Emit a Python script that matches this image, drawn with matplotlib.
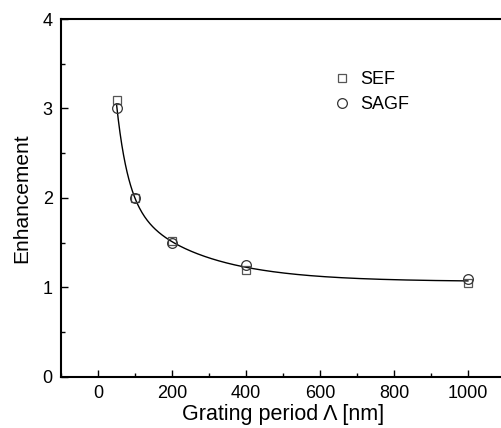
import numpy as np
import matplotlib
matplotlib.use("Agg")
import matplotlib.pyplot as plt
from matplotlib.ticker import MultipleLocator

plt.rcParams['font.family'] = ['Liberation Sans', 'DejaVu Sans']

# Grating period (nm) and measured enhancement factors
period_nm = [50, 100, 200, 400, 1000]
sef = [3.10, 2.00, 1.52, 1.20, 1.05]
sagf = [3.00, 2.00, 1.50, 1.25, 1.10]

x_ticks = [0, 200, 400, 600, 800, 1000]
y_ticks = [0, 1, 2, 3, 4]

# Second-order exponential decay fitted jointly to both series:
# y = y0 + A1*exp(-x/t1) + A2*exp(-x/t2)
xd = np.array(period_nm * 2, dtype=float)
yd = np.array(sef + sagf, dtype=float)
best = None
for t1 in np.logspace(1.0, 2.6, 60):
    for t2 in np.logspace(2.0, 3.6, 60):
        if t2 <= t1:
            continue
        A = np.column_stack([np.ones_like(xd), np.exp(-xd / t1), np.exp(-xd / t2)])
        coef, *_ = np.linalg.lstsq(A, yd, rcond=None)
        res = np.sum((A @ coef - yd) ** 2)
        if best is None or res < best[0]:
            best = (res, t1, t2, coef)
_, t1, t2, coef = best
xf = np.linspace(min(period_nm), max(period_nm), 400)
yf = coef[0] + coef[1] * np.exp(-xf / t1) + coef[2] * np.exp(-xf / t2)

fig = plt.figure(figsize=(5.01, 4.28), dpi=100)
ax = fig.add_axes([0.1218, 0.1192, 0.886, 0.8364])

ax.plot(xf, yf, color='black', lw=1.0, zorder=2)
ax.plot(period_nm, sef, ls='none', marker='s', ms=6.0, mfc='none',
        mec='#555555', mew=0.9, label='SEF', zorder=3)
ax.plot(period_nm, sagf, ls='none', marker='o', ms=7.0, mfc='none',
        mec='#333333', mew=0.9, label='SAGF', zorder=3)

ax.set_xlim(-100, 1100)
ax.set_ylim(0, 4)
ax.set_xticks(x_ticks)
ax.set_yticks(y_ticks)
ax.xaxis.set_minor_locator(MultipleLocator(100))
ax.yaxis.set_minor_locator(MultipleLocator(0.5))
ax.tick_params(which='major', direction='in', length=5, width=1.0,
               labelsize=13, pad=6)
ax.tick_params(which='minor', direction='in', length=3, width=1.0)
for s in ax.spines.values():
    s.set_linewidth(1.5)

ax.set_xlabel('Grating period Λ [nm]', fontsize=15.5, labelpad=1)
ax.set_ylabel('Enhancement', fontsize=15, labelpad=8)

ax.legend(loc='upper left', bbox_to_anchor=(0.588, 0.89), frameon=False,
          fontsize=13, handlelength=0.8, handletextpad=0.6, labelspacing=0.45,
          borderpad=0.2)

fig.savefig('out.png', dpi=100)
